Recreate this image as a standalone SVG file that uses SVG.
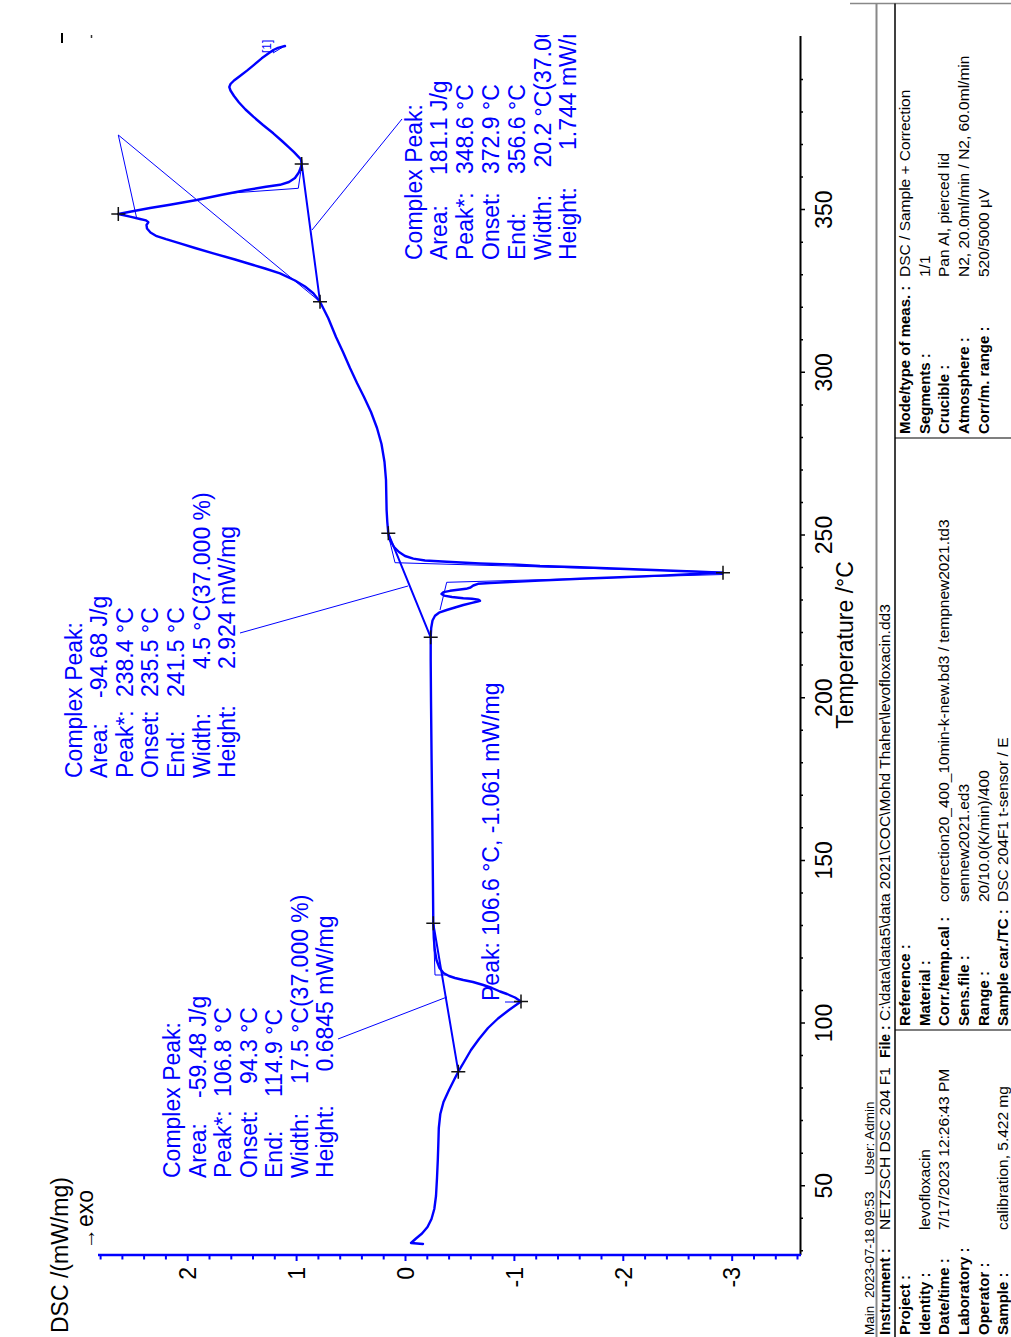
<svg xmlns="http://www.w3.org/2000/svg" width="1011" height="1337" viewBox="0 0 1011 1337">
<style>
text{font-family:"Liberation Sans",Arial,Helvetica,sans-serif}
.a{font-size:23px;fill:#0000ff}
.k{font-size:23px;fill:#000}
.f{font-size:15.5px;fill:#000}
.m{font-size:13.5px;fill:#000}
.b{font-weight:bold;font-size:15px}
.cv{fill:none;stroke:#0000ff;stroke-width:2.4;stroke-linejoin:round;stroke-linecap:round}
.bl{fill:none;stroke:#0000ff;stroke-width:2}
.th{fill:none;stroke:#0000ff;stroke-width:1}
</style>
<defs>
<path id="cross" d="M-7,0h14M0,-7v14" stroke="#111" stroke-width="1.5" fill="none"/>
<clipPath id="plotclip"><rect x="0" y="35" width="870" height="1302"/></clipPath>
</defs>
<rect width="1011" height="1337" fill="#fff"/>

<g id="axes">
<path d="M800.5,36V1255" stroke="#000" stroke-width="2"/>
<path d="M98,1255H801" stroke="#0000ff" stroke-width="2.5"/>
<path stroke="#000" stroke-width="1.5" d="M800,1250.8h3M800,1218.3h3M800,1185.7h5M800,1153.2h3M800,1120.6h3M800,1088.1h3M800,1055.6h3M800,1023h5M800,990.5h3M800,958h3M800,925.4h3M800,892.9h3M800,860.4h5M800,827.8h3M800,795.3h3M800,762.8h3M800,730.2h3M800,697.7h5M800,665.1h3M800,632.6h3M800,600.1h3M800,567.5h3M800,535h5M800,502.5h3M800,469.9h3M800,437.4h3M800,404.9h3M800,372.3h5M800,339.8h3M800,307.2h3M800,274.7h3M800,242.2h3M800,209.6h5M800,177.1h3M800,144.6h3M800,112h3M800,79.5h3"/>
<path stroke="#0000ff" stroke-width="2" d="M100.6,1255v4.5M122.4,1255v4.5M144.1,1255v4.5M165.9,1255v4.5M187.7,1255v6M209.5,1255v4.5M231.3,1255v4.5M253,1255v4.5M274.8,1255v4.5M296.6,1255v6M318.4,1255v4.5M340.2,1255v4.5M361.9,1255v4.5M383.7,1255v4.5M405.5,1255v6M427.3,1255v4.5M449.1,1255v4.5M470.8,1255v4.5M492.6,1255v4.5M514.4,1255v6M536.2,1255v4.5M558,1255v4.5M579.7,1255v4.5M601.5,1255v4.5M623.3,1255v6M645.1,1255v4.5M666.9,1255v4.5M688.6,1255v4.5M710.4,1255v4.5M732.2,1255v6M754,1255v4.5M775.8,1255v4.5M797.5,1255v4.5"/>
<g transform="rotate(-90)" class="k" text-anchor="middle">
<text x="-1185.7" y="832">50</text>
<text x="-1023" y="832">100</text>
<text x="-860.4" y="832">150</text>
<text x="-697.7" y="832">200</text>
<text x="-535" y="832">250</text>
<text x="-372.3" y="832">300</text>
<text x="-209.6" y="832">350</text>
<text x="-645" y="853">Temperature /°C</text>
</g>
<g transform="rotate(-90)" class="k" text-anchor="end">
<text x="-1267" y="196">2</text>
<text x="-1267" y="304.8">1</text>
<text x="-1267" y="413.7">0</text>
<text x="-1267" y="522.6">-1</text>
<text x="-1267" y="631.5">-2</text>
<text x="-1267" y="740.4">-3</text>
</g>
<g transform="rotate(-90)" class="k">
<text x="-1333" y="68">DSC /(mW/mg)</text>
<text x="-1249" y="95"><tspan font-size="21" font-weight="bold">→</tspan><tspan x="-1233.4" y="93"> exo</tspan></text>
</g>
<path d="M62,33V43" stroke="#000" stroke-width="2"/>
<path d="M91.5,35V38" stroke="#333" stroke-width="1.5"/>
</g>

<g id="connectors">
<path class="cv" d="M423,1244 L411,1243 L416,1238.5 L422,1233.5 L427.5,1227 L431.5,1219 L434.3,1209 L436,1196 L437,1178 L437.8,1160 L438.3,1145 L438.8,1128 L440.3,1114 L443.5,1102 L449,1090 L455,1078 L458.3,1071.7 L464,1062 L471,1050 L479,1039 L488,1028 L498,1018.5 L509,1010 L516,1005 L521,1001.6 L515,997.5 L507,994 L500,991.5 L492,988 L483.3,985 L473,982 L463.3,980 L455,978 L449,976 L443.5,973 L439.5,968 L436.5,960 L434.8,950 L433.8,938 L433.3,923.3 L432.9,880 L432.3,820 L431.6,760 L431,700 L430.7,660 L430.7,637.3 L431.2,628 L432.5,620.5 L435,615.8 L439,612.7 L446.7,610 L455,607.5 L463.3,605 L472,602.8 L477.5,601.5 L480,600.8 L478.5,599.6 L472,598.8 L463.3,598.2 L452,597 L444,595.6 L441.5,594 L443.5,592.2 L450,590.8 L458,589.8 L466,588.8 L470.5,587.5 L473.3,585.5 L478,583.8 L490,583 L510,582 L540,580.6 L580,578.8 L620,577.3 L660,575.6 L700,573.8 L723,572.7 L700,571.8 L660,570.3 L620,568.8 L580,567.3 L540,566 L513.3,564.5 L480,563.5 L446.7,561.8 L425,560.5 L413.3,558.6 L405,556 L399,552 L394,547 L390.5,541 L388.8,536 L388.3,533.3 L387.3,522 L386.6,510 L386.3,495 L386,480 L384.5,462 L381.5,444 L377,428 L371,412 L364,397 L357,383 L350,368 L343,352 L336,337 L328.3,318.3 L320,301.7 L313.3,293.3 L305,286.5 L295,280.5 L280,273.3 L265,268.5 L253.3,265 L235,259.5 L213.3,253.3 L195,248 L180,243.3 L166,239.2 L156.7,236.2 L150.5,232.5 L147,228.5 L146.5,225 L148.3,222.3 L146,220.4 L140,219 L130,216.6 L118.3,214 L130,211.8 L150,208 L170,204.8 L196.7,200 L222,194.8 L246.7,190 L266,186.8 L280,184.8 L289,182 L295,178 L298.8,172.5 L300.8,167.5 L301.7,164 L301,159.5 L298.3,156.7 L294,152.2 L290,148.3 L282,141 L273.3,133.3 L263,125 L253.3,116.7 L245.5,109.5 L239,102.5 L234,96 L230.5,90.5 L229.3,87 L230.5,84 L234,80.5 L240,76 L247,70.6 L254,64.8 L261.7,58.3 L268,53.8 L273.3,50 L278,47.8 L285,46"/>
<path class="bl" d="M458.3,1071.7L433.3,923.3M430.7,637.3L388.3,533.3M301.7,164L320,301.7"/>
<path class="th" d="M433.3,925L435,975L447,975M505,1002H520M388.3,535L395,562.7L723,572.2M723,574.5L446.7,582.3L440,610M118.3,135L136.7,218.3M118.3,135L320,301.7M301.7,165L298.3,188.3L232,193M273,53L283,47"/>
<path class="th" d="M338,1039L447,997M240,633L408,586M402,119L312,230"/>
<use href="#cross" x="458.3" y="1071.7"/>
<use href="#cross" x="521" y="1001.6"/>
<use href="#cross" x="433.3" y="923.3"/>
<use href="#cross" x="430.7" y="637.3"/>
<use href="#cross" x="723" y="572.7"/>
<use href="#cross" x="388.3" y="533.3"/>
<use href="#cross" x="320" y="301.7"/>
<use href="#cross" x="118.3" y="214"/>
<use href="#cross" x="301.7" y="164"/>
</g>

<g id="peak1-label" transform="rotate(-90)" class="a">
<text x="-1178" y="180">Complex Peak:</text>
<text x="-1178" y="205.5">Area:</text><text x="-1098" y="205.5">-59.48 J/g</text>
<text x="-1178" y="231">Peak*:</text><text x="-1097" y="231">106.8 °C</text>
<text x="-1178" y="256.5">Onset:</text><text x="-1084" y="256.5">94.3 °C</text>
<text x="-1178" y="282">End:</text><text x="-1097" y="282">114.9 °C</text>
<text x="-1178" y="307.5">Width:</text><text x="-1084" y="307.5">17.5 °C(37.000 %)</text>
<text x="-1178" y="333">Height:</text><text x="-1071.5" y="333">0.6845 mW/mg</text>
</g>
<g id="peak1-marker" transform="rotate(-90)" class="a">
<text x="-1001" y="498.5">Peak: 106.6 °C, -1.061 mW/mg</text>
</g>
<g id="peak2-label" transform="rotate(-90)" class="a">
<text x="-778" y="81.5">Complex Peak:</text>
<text x="-778" y="107.1">Area:</text><text x="-698" y="107.1">-94.68 J/g</text>
<text x="-778" y="132.7">Peak*:</text><text x="-697" y="132.7">238.4 °C</text>
<text x="-778" y="158.3">Onset:</text><text x="-697" y="158.3">235.5 °C</text>
<text x="-778" y="183.9">End:</text><text x="-697" y="183.9">241.5 °C</text>
<text x="-778" y="209.5">Width:</text><text x="-669" y="209.5">4.5 °C(37.000 %)</text>
<text x="-778" y="235.1">Height:</text><text x="-669" y="235.1">2.924 mW/mg</text>
</g>
<g id="peak3-label" clip-path="url(#plotclip)">
<g transform="rotate(-90)" class="a">
<text x="-260" y="421.5">Complex Peak:</text>
<text x="-260" y="447.3">Area:</text><text x="-175" y="447.3">181.1 J/g</text>
<text x="-260" y="473.1">Peak*:</text><text x="-174" y="473.1">348.6 °C</text>
<text x="-260" y="498.9">Onset:</text><text x="-174" y="498.9">372.9 °C</text>
<text x="-260" y="524.7">End:</text><text x="-174" y="524.7">356.6 °C</text>
<text x="-260" y="550.5">Width:</text><text x="-167.6" y="550.5">20.2 °C(37.000 %)</text>
<text x="-260" y="576.3">Height:</text><text x="-150" y="576.3">1.744 mW/mg</text>
</g>
</g>
<g id="curve-tag" transform="rotate(-90)">
<text x="-53" y="271" font-size="12" fill="#0000ff">[1]</text>
</g>

<g id="footer">
<path d="M850,3.5H1011" stroke="#888" stroke-width="1.5"/>
<path d="M876.5,3.5V1337" stroke="#888" stroke-width="2"/>
<path d="M895,3.5V1337" stroke="#000" stroke-width="1.5"/>
<path d="M895,1030H1011M895,438H1011" stroke="#000" stroke-width="1.2"/>
<g transform="rotate(-90)">
<text class="m" x="-1335" y="873.5">Main</text>
<text class="m" x="-1298" y="873.5">2023-07-18 09:53</text>
<text class="m" x="-1175" y="873.5">User: Admin</text>
<text class="b" x="-1335" y="890">Instrument :</text>
<text class="f" x="-1230" y="890">NETZSCH DSC 204 F1</text>
<text class="b" x="-1058" y="890" style="font-size:14px">File :</text>
<text class="f" x="-1021" y="890">C:\data\data5\data 2021\COC\Mohd Thaher\levofloxacin.dd3</text>
<text class="b" x="-1335" y="909.5">Project :</text>
<text class="b" x="-1335" y="929.5">Identity :</text>
<text class="f" x="-1230" y="929.5">levofloxacin</text>
<text class="b" x="-1335" y="949.3">Date/time :</text>
<text class="f" x="-1230" y="949.3">7/17/2023 12:26:43 PM</text>
<text class="b" x="-1335" y="969">Laboratory :</text>
<text class="b" x="-1335" y="988.5">Operator :</text>
<text class="b" x="-1335" y="1008">Sample :</text>
<text class="f" x="-1230" y="1008">calibration, 5.422 mg</text>
<text class="b" x="-1026" y="909.5">Reference :</text>
<text class="b" x="-1026" y="929.5">Material :</text>
<text class="b" x="-1026" y="949.3">Corr./temp.cal :</text>
<text class="f" x="-902" y="949.3">correction20_400_10min-k-new.bd3 / tempnew2021.td3</text>
<text class="b" x="-1026" y="969">Sens.file :</text>
<text class="f" x="-902" y="969">sennew2021.ed3</text>
<text class="b" x="-1026" y="988.5">Range :</text>
<text class="f" x="-902" y="988.5">20/10.0(K/min)/400</text>
<text class="b" x="-1026" y="1008">Sample car./TC :</text>
<text class="f" x="-902" y="1008">DSC 204F1 t-sensor / E</text>
<text class="b" x="-434" y="909.5">Mode/type of meas. :</text>
<text class="f" x="-277" y="909.5">DSC / Sample + Correction</text>
<text class="b" x="-434" y="929.5">Segments :</text>
<text class="f" x="-277" y="929.5">1/1</text>
<text class="b" x="-434" y="949.3">Crucible :</text>
<text class="f" x="-277" y="949.3">Pan Al, pierced lid</text>
<text class="b" x="-434" y="969">Atmosphere :</text>
<text class="f" x="-277" y="969">N2, 20.0ml/min / N2, 60.0ml/min</text>
<text class="b" x="-434" y="988.5">Corr/m. range :</text>
<text class="f" x="-277" y="988.5">520/5000 µV</text>
</g>
</g>
</svg>
